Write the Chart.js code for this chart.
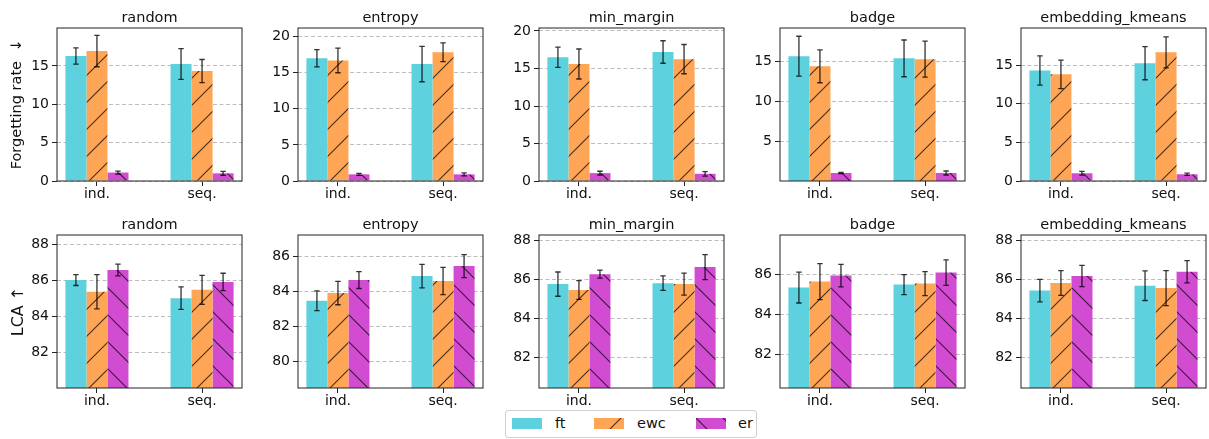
<!DOCTYPE html>
<html lang="en">
<head>
  <meta charset="UTF-8" />
  <title>Forgetting rate and LCA per strategy</title>
  <script src="https://cdn.jsdelivr.net/npm/chart.js"></script>
  <style>
    body {
      margin: 0;
      background: #fff;
      font-family: "DejaVu Sans", sans-serif;
    }
    #wrap {
      position: relative;
      width: 1209px;
      height: 439px;
      overflow: hidden;
    }
    #wrap canvas.panel {
      position: absolute;
    }
    #legend {
      position: absolute;
      left: 505px;
      top: 410px;
      width: 250px;
      height: 26px;
      border: 1px solid #d0d0d0;
      border-radius: 3px;
      background: #fff;
    }
    #legend canvas {
      position: absolute;
      top: 7px;
    }
    #legend span {
      position: absolute;
      top: 4px;
      font-size: 14.5px;
      line-height: 17px;
      color: #111;
    }
  </style>
</head>
<body>
  <div id="wrap">
    <div id="legend"></div>
  </div>

  <script>
    // categories / series
    const strategies = ['random', 'entropy', 'min_margin', 'badge', 'embedding_kmeans'];
    const settings = ['ind.', 'seq.'];
    const methods = ['ft', 'ewc', 'er'];

    // forgetting rate, one [ind., seq.] pair per strategy
    const fgtFt = [[16.3, 15.25], [17.0, 16.2], [16.5, 17.2], [15.67, 15.4], [14.3, 15.25]];
    const fgtFtErr = [[1.07, 2.0], [1.2, 2.45], [1.35, 1.5], [2.5, 2.3], [1.9, 2.15]];
    const fgtEwc = [[16.95, 14.34], [16.7, 17.83], [15.6, 16.25], [14.4, 15.3], [13.8, 16.65]];
    const fgtEwcErr = [[2.05, 1.5], [1.7, 1.3], [2.0, 1.95], [2.05, 2.25], [1.85, 2.0]];
    const fgtEr = [[1.1, 1.0], [0.92, 0.92], [1.05, 0.96], [1.05, 1.05], [1.0, 0.87]];
    const fgtErErr = [[0.2, 0.25], [0.15, 0.2], [0.25, 0.3], [0.08, 0.25], [0.25, 0.15]];

    // LCA
    const lcaFt = [[86.0, 85.0], [83.49, 84.9], [85.76, 85.81], [85.35, 85.5], [85.44, 85.69]];
    const lcaFtErr = [[0.3, 0.62], [0.57, 0.67], [0.62, 0.37], [0.77, 0.5], [0.58, 0.76]];
    const lcaEwc = [[85.35, 85.46], [83.93, 84.62], [85.46, 85.76], [85.65, 85.55], [85.83, 85.57]];
    const lcaEwcErr = [[0.95, 0.8], [0.67, 0.78], [0.48, 0.56], [0.9, 0.6], [0.64, 0.9]];
    const lcaEr = [[86.56, 85.9], [84.67, 85.47], [86.27, 86.63], [85.95, 86.1], [86.19, 86.41]];
    const lcaErErr = [[0.33, 0.48], [0.48, 0.66], [0.2, 0.64], [0.56, 0.64], [0.55, 0.57]];

    // axis limits and tick labels
    const fgtMin = [0, 0, 0, 0.05, 0];
    const fgtMax = [19.95, 21.2, 20.4, 19.2, 19.8];
    const fgtTicks = [[0, 5, 10, 15], [0, 5, 10, 15, 20], [0, 5, 10, 15, 20], [5, 10, 15], [0, 5, 10, 15]];
    const lcaMin = [80.02, 78.5, 80.45, 80.33, 80.43];
    const lcaMax = [88.5, 87.25, 88.27, 87.98, 88.3];
    const lcaTicks = [[82, 84, 86, 88], [80, 82, 84, 86], [82, 84, 86, 88], [82, 84, 86], [82, 84, 86, 88]];

    const FONT = '"DejaVu Sans", sans-serif';
    const INK = '#111';
    const colors = ['#5dd1dd', '#ffa556', '#d24cd2'];
    const hatches = [null, '/', '\\'];

    function hatchFill(color, dir) {
      if (!dir) return color;
      const s = 27;
      const c = document.createElement('canvas');
      c.width = c.height = s;
      const g = c.getContext('2d');
      g.fillStyle = color;
      g.fillRect(0, 0, s, s);
      g.strokeStyle = 'rgba(0,0,0,0.72)';
      g.lineWidth = 1.1;
      g.beginPath();
      for (const k of [-s, 0, s]) {
        if (dir === '/') { g.moveTo(k, s); g.lineTo(k + s, 0); }
        else { g.moveTo(k, 0); g.lineTo(k + s, s); }
      }
      g.stroke();
      return g.createPattern(c, 'repeat');
    }

    // error bars drawn at each bar's centre through the y scale
    const errorBars = {
      id: 'errorBars',
      afterDatasetsDraw(chart) {
        const ctx = chart.ctx;
        const y = chart.scales.y;
        ctx.save();
        ctx.strokeStyle = 'rgba(0,0,0,0.8)';
        ctx.lineWidth = 1.3;
        chart.data.datasets.forEach((ds, i) => {
          chart.getDatasetMeta(i).data.forEach((bar, j) => {
            const v = ds.data[j].y, e = ds.errors[j];
            const top = y.getPixelForValue(v + e), bot = y.getPixelForValue(v - e);
            ctx.beginPath();
            ctx.moveTo(bar.x, top); ctx.lineTo(bar.x, bot);
            ctx.moveTo(bar.x - 2.7, top); ctx.lineTo(bar.x + 2.7, top);
            ctx.moveTo(bar.x - 2.7, bot); ctx.lineTo(bar.x + 2.7, bot);
            ctx.stroke();
          });
        });
        ctx.restore();
      }
    };

    // box around the plot area
    const frame = {
      id: 'frame',
      afterDraw(chart) {
        const a = chart.chartArea, ctx = chart.ctx;
        ctx.save();
        ctx.strokeStyle = '#222';
        ctx.lineWidth = 1;
        ctx.strokeRect(a.left, a.top, a.right - a.left, a.bottom - a.top);
        ctx.restore();
      }
    };

    const wrap = document.getElementById('wrap');
    const plotLeft = [57, 298, 539, 780, 1021];

    function panel(row, col, means, errs, yMin, yMax, ticks, yLabel) {
      const cv = document.createElement('canvas');
      cv.className = 'panel';
      cv.width = 246;
      cv.height = 206;
      cv.style.left = (plotLeft[col] - 57) + 'px';
      cv.style.top = (row === 0 ? 0 : 207) + 'px';
      wrap.appendChild(cv);

      new Chart(cv, {
        type: 'bar',
        data: {
          datasets: methods.map((m, k) => ({
            label: m,
            data: settings.map((_, j) => ({ x: j, y: means[k][col][j] })),
            errors: errs[k][col],
            backgroundColor: hatchFill(colors[k], hatches[k]),
            borderWidth: 0,
            categoryPercentage: 0.6,
            barPercentage: 1.0
          }))
        },
        options: {
          responsive: false,
          animation: false,
          layout: { padding: { right: 4 } },
          scales: {
            x: {
              type: 'linear',
              offset: false,
              min: -0.38,
              max: 1.38,
              afterBuildTicks: s => { s.ticks = settings.map((_, j) => ({ value: j })); },
              afterFit: s => { s.height = 25; },
              ticks: {
                autoSkip: false,
                maxRotation: 0,
                padding: 0,
                color: INK,
                font: { family: FONT, size: 14 },
                callback: v => settings[v]
              },
              grid: { drawOnChartArea: false, offset: false, tickLength: 5, tickColor: '#222' },
              border: { display: false }
            },
            y: {
              min: yMin,
              max: yMax,
              afterBuildTicks: s => { s.ticks = ticks.map(v => ({ value: v })); },
              afterFit: s => { s.width = 57; },
              ticks: {
                padding: 3,
                color: INK,
                font: { family: FONT, size: 14 },
                callback: v => String(v)
              },
              grid: { color: '#bdbdbd', tickLength: 5, tickColor: '#222' },
              border: { display: false, dash: [4, 2.5] },
              title: {
                display: !!yLabel,
                text: yLabel || '',
                color: INK,
                font: { family: FONT, size: row === 0 ? 14.5 : 16 },
                padding: { top: 9, bottom: 0 }
              }
            }
          },
          plugins: {
            legend: { display: false },
            tooltip: { enabled: false },
            title: {
              display: true,
              fullSize: false,
              text: strategies[col],
              color: INK,
              font: { family: FONT, size: 14.5, weight: 'normal' },
              padding: { top: 9.5, bottom: 1.1 }
            }
          }
        },
        plugins: [errorBars, frame]
      });
    }

    strategies.forEach((_, c) => {
      panel(0, c, [fgtFt, fgtEwc, fgtEr], [fgtFtErr, fgtEwcErr, fgtErErr],
        fgtMin[c], fgtMax[c], fgtTicks[c], c === 0 ? 'Forgetting rate  \u2193' : null);
      panel(1, c, [lcaFt, lcaEwc, lcaEr], [lcaFtErr, lcaEwcErr, lcaErErr],
        lcaMin[c], lcaMax[c], lcaTicks[c], c === 0 ? 'LCA \u2191' : null);
    });

    // legend below the grid
    const legend = document.getElementById('legend');
    const swatchX = [6, 88, 190];
    const textX = [49, 131, 232];
    methods.forEach((m, k) => {
      const sw = document.createElement('canvas');
      sw.width = 30;
      sw.height = 11;
      sw.style.left = swatchX[k] + 'px';
      const g = sw.getContext('2d');
      g.fillStyle = hatchFill(colors[k], hatches[k]);
      g.fillRect(0, 0, 30, 11);
      legend.appendChild(sw);
      const t = document.createElement('span');
      t.textContent = m;
      t.style.left = textX[k] + 'px';
      legend.appendChild(t);
    });
  </script>
</body>
</html>
